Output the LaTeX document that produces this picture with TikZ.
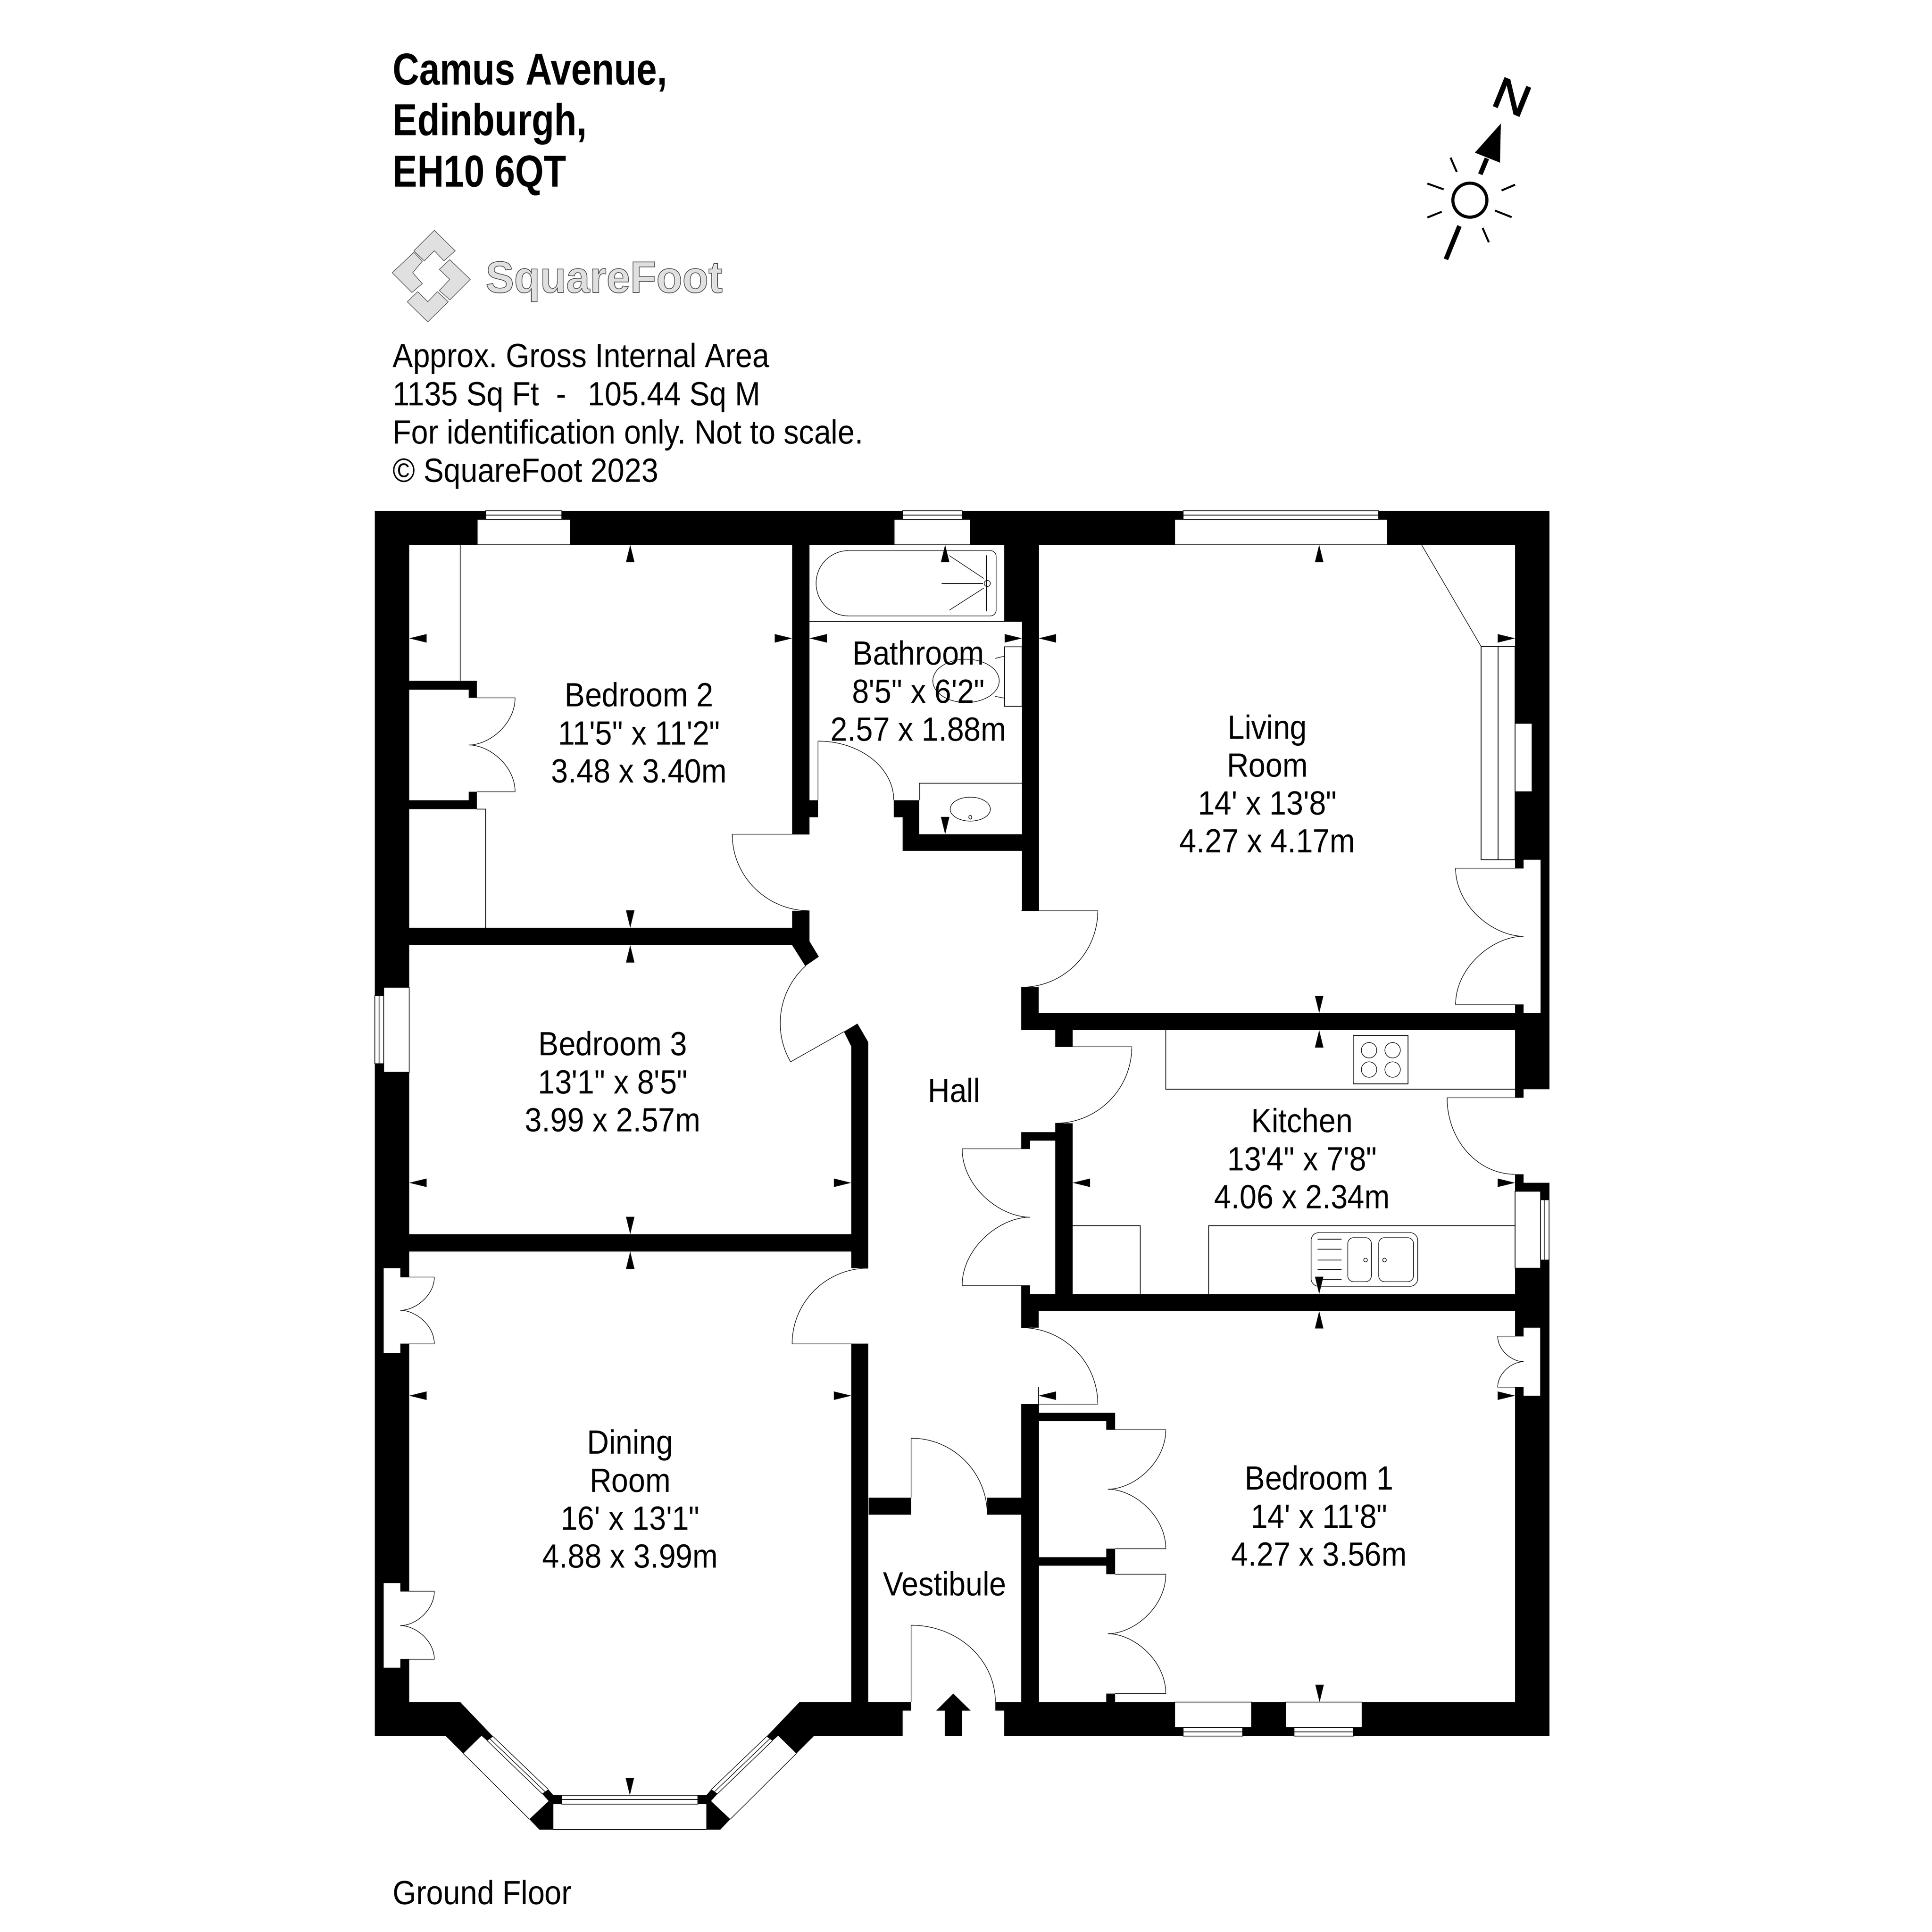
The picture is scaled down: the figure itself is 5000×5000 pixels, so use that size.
\documentclass[tikz,border=0pt]{standalone}
\usepackage{fontspec}
\newfontfamily\planfont{Liberation Sans}

\tikzset{
  lin/.style={line width=0.4pt,black},
  wall/.style={fill=black},
  gap/.style={fill=white},
  pane/.style={line width=0.4pt,draw=black,fill=white},
  logopart/.style={line width=0.4pt,draw=black!70,fill=black!12},
  roomlabel/.style={align=center,inner sep=0pt,xscale=.905,font=\planfont\fontsize{24.7}{27.9}\selectfont},
  infolabel/.style={anchor=base west,inner sep=0pt,xscale=.905,font=\planfont\fontsize{24.7}{27.9}\selectfont},
  titlelabel/.style={anchor=base west,inner sep=0pt,xscale=.82,font=\planfont\bfseries\fontsize{33}{37.8}\selectfont}
}

% one half of the bay, the other half is its mirror
\newcommand{\bayhalf}{
  \fill[wall] (970,4405) -- (1191,4405) -- (1276,4494) -- (1261,4505) -- (1246,4492) -- (1199,4538) -- (1154,4493) -- (970,4493) -- cycle;
  \fill[wall] (1403,4642) -- (1419,4631) -- (1432,4646) -- (1454,4646) -- (1454,4669) -- (1432,4669) -- (1432,4735) -- (1396,4735) -- (1370,4708) -- (1420,4661) -- cycle;
  \draw[lin] (1276,4494) -- (1419,4631);
  \draw[lin] (1268,4500) -- (1411,4637);
  \draw[lin] (1261,4505) -- (1403,4642);
  \draw[lin] (1199,4538) -- (1370,4708);
}

\begin{document}
\frenchspacing
\begin{tikzpicture}[x=0.01cm,y=-0.01cm]
\useasboundingbox (0,0) rectangle (5000,5000);
\fill[white] (0,0) rectangle (5000,5000);

% walls
\foreach \xa/\ya/\xb/\yb in {970/1322/4010/1410, 970/1322/1059/4493, 3921/1322/4010/4493,
  2204/4405/2358/4427, 2204/4427/2336/4493, 2576/4405/4010/4427, 2599/4427/4010/4493,
  2050/1410/2095/2159, 2050/2357/2095/2446, 2095/2071/2117/2115,
  2599/1410/2689/1608, 2645/1608/2689/2357,
  2313/2071/2379/2115, 2336/2115/2379/2202, 2336/2159/2645/2202,
  1059/2401/2095/2446, 2203/2708/2247/3282, 2203/3478/2247/4405, 1059/3194/2247/3239,
  1059/1762/1234/1785, 1213/1762/1234/1806, 1059/2071/1234/2094, 1213/2049/1234/2094,
  2643/2555/2688/2666, 2643/2622/3921/2666, 2731/2666/2776/2709,
  2731/2907/2776/3349, 2643/2930/2731/2952, 2643/2930/2666/2973, 2643/3327/2666/3349,
  2643/3349/3921/3393, 2643/3349/2688/3436,
  2643/3634/2689/4405, 2689/3656/2886/3678, 2863/3656/2886/3700,
  2689/4030/2863/4052, 2863/4008/2886/4074, 2863/4383/2886/4405,
  2248/3876/2358/3920, 2555/3876/2644/3920}
  \fill[wall] (\xa,\ya) rectangle (\xb,\yb);
\fill[wall] (2050,2446) -- (2095,2436) -- (2119,2476) -- (2084,2500) -- cycle;
\fill[wall] (2184,2670) -- (2219,2649) -- (2247,2697) -- (2247,2708) -- (2203,2708) -- cycle;

% recesses and door gaps
\foreach \xa/\ya/\xb/\yb in {993/3282/1036/3502, 1036/3305/1059/3478, 993/4097/1036/4316, 1036/4118/1059/4294,
  3943/2225/3987/2622, 3921/2247/3943/2600,
  3943/2819/4010/3061, 3921/2841/3943/3039,
  3943/3436/3986/3612, 3921/3458/3943/3590}
  \fill[gap] (\xa,\ya) rectangle (\xb,\yb);

% openings and window panes
\foreach \xa/\ya/\xb/\yb in {1235/1344/1476/1410, 2314/1344/2511/1410, 3040/1344/3590/1410,
  993/2555/1059/2775, 3921/1872/3965/2049, 3921/3083/3987/3282,
  3040/4405/3239/4471, 3327/4405/3525/4471}
  \draw[pane] (\xa,\ya) rectangle (\xb,\yb);
\foreach \xa/\xb in {1257/1454, 2336/2490, 3062/3568}{
  \draw[pane] (\xa,1322) rectangle (\xb,1344);
  \draw[lin] (\xa,1333) -- (\xb,1333);
}
\foreach \xa/\xb in {3062/3216, 3349/3503}{
  \draw[pane] (\xa,4471) rectangle (\xb,4493);
  \draw[lin] (\xa,4482) -- (\xb,4482);
}
\draw[pane] (970,2577) rectangle (993,2753);
\draw[lin] (981,2577) -- (981,2753);
\draw[pane] (3987,3105) rectangle (4009,3261);
\draw[lin] (3998,3105) -- (3998,3261);

% bay
\bayhalf
\begin{scope}[shift={(3260,0)},xscale=-1]
\bayhalf
\end{scope}
\draw[pane] (1454,4646) rectangle (1806,4669);
\draw[lin] (1454,4657) -- (1806,4657);
\draw[lin] (1432,4735) -- (1828,4735);

% single doors
\draw[lin] (2095,2159) -- (1895,2159) arc[start angle=180,end angle=90,x radius=200,y radius=198];
\draw[lin] (2117,2071) -- (2117,1918) arc[start angle=-90,end angle=0,x radius=196,y radius=153];
\draw[lin] (2643,2357) -- (2841,2357) arc[start angle=0,end angle=90,radius=198];
\draw[lin] (2731,2709) -- (2929,2709) arc[start angle=0,end angle=90,radius=198];
\draw[lin] (3921,2841) -- (3745,2841) arc[start angle=180,end angle=90,x radius=176,y radius=198];
\draw[lin] (2247,3478) -- (2050,3478) arc[start angle=180,end angle=270,x radius=197,y radius=196];
\draw[lin] (2688,3634) -- (2841,3634) arc[start angle=0,end angle=-90,radius=198];
\draw[lin] (2688,3590) -- (2688,3634);
\draw[lin] (2358,3876) -- (2358,3722) arc[start angle=-90,end angle=0,x radius=197,y radius=198];
\draw[lin] (2358,4405) -- (2358,4206) arc[start angle=-90,end angle=0,x radius=218,y radius=199];
\draw[lin] (2184,2670) -- (2046,2748) arc[start angle=150,end angle=228,radius=200];

% double doors
\foreach \ja/\tp/\mt/\ya/\ym/\yb in {1234/1333/1213/1806/1928/2049, 2886/3017/2867/3700/3854/4008,
  2886/3017/2867/4074/4228/4383, 1036/1124/1036/3305/3391/3478, 1036/1124/1036/4118/4207/4294,
  2666/2490/2666/2973/3150/3327, 3943/3767/3943/2247/2423/2600, 3943/3876/3943/3458/3524/3590}
  \draw[lin] (\ja,\ya) -- (\tp,\ya) .. controls (\tp,{\ya+.55*(\ym-\ya)}) and ({\mt+.45*(\tp-\mt)},\ym) .. (\mt,\ym)
    .. controls ({\mt+.45*(\tp-\mt)},\ym) and (\tp,{\yb-.55*(\yb-\ym)}) .. (\tp,\yb) -- (\ja,\yb);

% bedroom 2 cupboards
\draw[lin] (1191,1410) -- (1191,1762);
\draw[lin] (1234,2094) -- (1257,2094) -- (1257,2401);

% bathroom
\draw[lin] (2095,1608) -- (2645,1608);
\draw[lin] (2196,1425) -- (2563,1425) arc[start angle=-90,end angle=0,radius=15] -- (2578,1579) arc[start angle=0,end angle=90,radius=15] -- (2196,1594) arc[start angle=90,end angle=270,x radius=84,y radius=84.5];
\draw[lin] (2555,1510) ellipse[x radius=8,y radius=8];
\draw[lin] (2437,1510) -- (2544,1510);
\draw[lin] (2457,1438) -- (2546,1497);
\draw[lin] (2457,1579) -- (2546,1522);
\draw[lin] (2553,1437) -- (2553,1582);
\draw[lin] (2600,1674) rectangle (2645,1828);
\draw[lin] (2500,1762) ellipse[x radius=86,y radius=56];
\draw[lin] (2575,1704) -- (2600,1698);
\draw[lin] (2575,1802) -- (2600,1807);
\draw[lin] (2379,2071) -- (2379,2027) -- (2645,2027);
\draw[lin] (2511,2094) ellipse[x radius=52,y radius=31];
\draw[lin] (2511,2115) ellipse[x radius=4,y radius=5];

% living room chimney
\draw[lin] (3679,1410) -- (3833,1673);
\draw[lin] (3833,1673) rectangle (3921,2225);
\draw[lin] (3877,1673) -- (3877,2225);

% kitchen
\draw[lin] (3017,2666) -- (3017,2819) -- (3921,2819);
\draw[lin] (3502,2680) rectangle (3644,2805);
\foreach \x in {3543,3604}
  \foreach \y in {2718,2768}
    \draw[lin] (\x,\y) ellipse[x radius=20,y radius=20];
\draw[lin] (2776,3172) -- (2951,3172) -- (2951,3349);
\draw[lin] (3128,3349) -- (3128,3172) -- (3921,3172);
\draw[lin,rounded corners=.2cm] (3393,3190) rectangle (3669,3329);
\draw[lin,rounded corners=.15cm] (3488,3203) rectangle (3549,3317);
\draw[lin,rounded corners=.15cm] (3568,3203) rectangle (3658,3317);
\foreach \y in {3207,3233,3261,3286,3311}
  \draw[lin] (3410,\y) -- (3472,\y);
\draw[lin] (3534,3261) circle[radius=5];
\draw[lin] (3583,3261) circle[radius=5];

% tick marks on the walls
\foreach \x/\y/\d in {1631/1410/1, 2446/1410/1, 3414/1410/1, 1631/2446/1, 1631/3239/1, 3414/2666/1, 3414/3393/1,
  1631/2401/-1, 2446/2159/-1, 3414/2622/-1, 1631/3194/-1, 3414/3349/-1, 1630/4646/-1, 3415/4405/-1}
  \fill (\x,\y) -- ++(-11,\d*45) -- ++(22,0) -- cycle;
\foreach \x/\y/\d in {1059/1652/1, 2095/1652/1, 2688/1652/1, 1059/3061/1, 2776/3061/1, 1059/3612/1, 2688/3612/1,
  2050/1652/-1, 2645/1652/-1, 3921/1652/-1, 2203/3061/-1, 3921/3061/-1, 2203/3612/-1, 3921/3612/-1}
  \fill (\x,\y) -- ++(\d*45,-11) -- ++(0,22) -- cycle;

% entrance arrow
\fill (2467,4383) -- (2512,4427) -- (2490,4427) -- (2490,4493) -- (2445,4493) -- (2445,4427) -- (2423,4427) -- cycle;

% room labels
\node[roomlabel] (bedtwo) at (1654,1896) {Bedroom 2\\11'5" x 11'2"\\3.48 x 3.40m};
\node[roomlabel] (bath) at (2377,1788) {Bathroom\\8'5" x 6'2"\\2.57 x 1.88m};
\node[roomlabel] (living) at (3280,2028) {Living\\Room\\14' x 13'8"\\4.27 x 4.17m};
\node[roomlabel] (bedthree) at (1586,2799) {Bedroom 3\\13'1" x 8'5"\\3.99 x 2.57m};
\node[roomlabel] (hall) at (2469,2821) {Hall};
\node[roomlabel] (kitchen) at (3370,2998) {Kitchen\\13'4" x 7'8"\\4.06 x 2.34m};
\node[roomlabel] (dining) at (1631,3879) {Dining\\Room\\16' x 13'1"\\4.88 x 3.99m};
\node[roomlabel] (bedone) at (3414,3923) {Bedroom 1\\14' x 11'8"\\4.27 x 3.56m};
\node[roomlabel] (vest) at (2445,4098) {Vestibule};

% heading
\node[titlelabel] (titleone) at (1016,220) {Camus Avenue,};
\node[titlelabel] (titletwo) at (1016,351) {Edinburgh,};
\node[titlelabel] (titlethree) at (1016,484) {EH10 6QT};
\node[infolabel] (infoone) at (1016,950) {Approx. Gross Internal Area};
\node[infolabel] (infotwo) at (1016,1049) {1135 Sq Ft \ -\ \ \,105.44 Sq M};
\node[infolabel] (infothree) at (1016,1148) {For identification only. Not to scale.};
\node[infolabel] (infofour) at (1016,1247) {© SquareFoot 2023};
\node[infolabel] (floor) at (1016,4928) {Ground Floor};

% logo
\filldraw[logopart] (1124,596) -- (1178,649) -- (1149,675) -- (1124,649) -- (1098,675) -- (1071,649) -- cycle;
\filldraw[logopart] (1071,653) -- (1093,676) -- (1068,706) -- (1093,734) -- (1066,757) -- (1015,706) -- cycle;
\filldraw[logopart] (1164,672) -- (1217,723) -- (1164,776) -- (1137,752) -- (1164,723) -- (1137,697) -- cycle;
\filldraw[logopart] (1081,755) -- (1107,781) -- (1132,755) -- (1160,781) -- (1107,833) -- (1054,781) -- cycle;
\node[anchor=base west,inner sep=0pt,xscale=.96,font=\planfont\bfseries\fontsize{32.7}{36}\selectfont] (logotext) at (1256,757)
  {\special{pdf:code q 2 Tr 0.5 w 0.88 g 0.3 G}SquareFoot\special{pdf:code Q}};

% compass
\draw[line width=8*0.01cm] (3804,518) circle[radius=44];
\foreach \xa/\ya/\xb/\yb in {3754/408/3770/445, 3694/475/3736/490, 3886/493/3921/478, 3694/563/3731/548, 3869/545/3912/562, 3837/590/3853/627}
  \draw[line width=5*0.01cm] (\xa,\ya) -- (\xb,\yb);
\draw[line width=12*0.01cm] (3777,585) -- (3742,671);
\draw[line width=12*0.01cm] (3831,451) -- (3848,410);
\fill (3884,320) -- (3817,395) -- (3882,421) -- cycle;
\node[rotate=-22,xscale=1.12,inner sep=0pt,font=\planfont\fontsize{32.5}{34}\selectfont] (north) at (3913,251)
  {\special{pdf:code q 2 Tr 0.7 w}N\special{pdf:code Q}};
\end{tikzpicture}
\end{document}
